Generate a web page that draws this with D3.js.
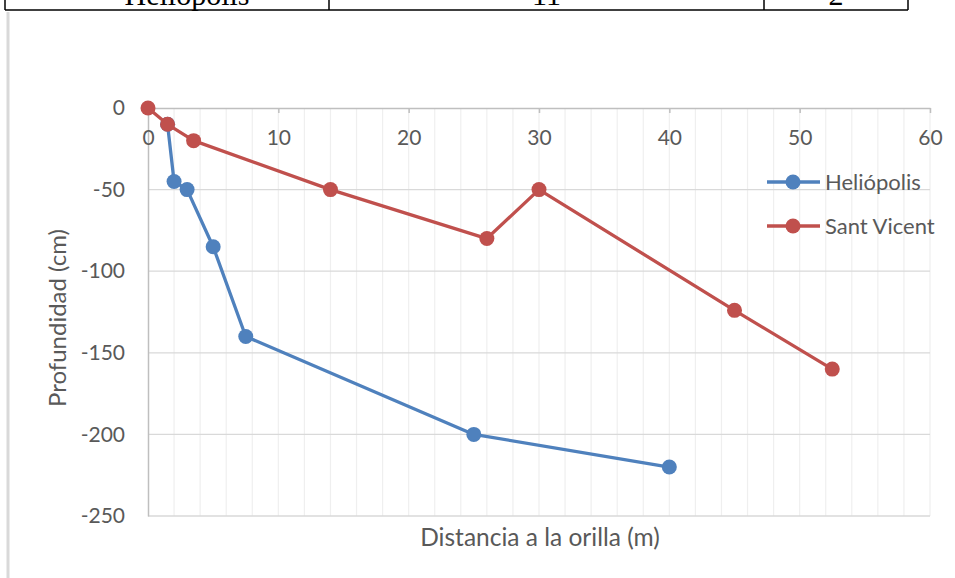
<!DOCTYPE html>
<html>
<head>
<meta charset="utf-8">
<script src="https://cdn.jsdelivr.net/npm/d3@7"></script>
<style>
  html, body { margin: 0; padding: 0; background: #fff; }
  svg { display: block; }
  text { font-family: Lato, "Open Sans", sans-serif; }
</style>
</head>
<body>
<svg id="chart" width="955" height="578"></svg>
<script>
// ---- data ----
const helioX = [1.5, 2, 3, 5, 7.5, 25, 40];
const helioY = [-10, -45, -50, -85, -140, -200, -220];
const vicentX = [0, 1.5, 3.5, 14, 26, 30, 45, 52.5];
const vicentY = [0, -10, -20, -50, -80, -50, -124, -160];
const seriesNames = ["Heliópolis", "Sant Vicent"];
const xTicks = [0, 10, 20, 30, 40, 50, 60];
const yTicks = [0, -50, -100, -150, -200, -250];
const xTitle = "Distancia a la orilla (m)";
const yTitle = "Profundidad (cm)";
const tableCells = ["Heliópolis", "11", "2"];

const colors = ["#4F81BD", "#C0504D"];
const textColor = "#595959";
const svg = d3.select("#chart");

// page/table fragment at the top
const tableCols = [5, 329, 764, 908];
svg.append("line").attr("x1", 5).attr("x2", 908).attr("y1", 10).attr("y2", 10)
  .attr("stroke", "#000").attr("stroke-width", 1.5);
tableCols.forEach(c => svg.append("line").attr("x1", c).attr("x2", c).attr("y1", 0).attr("y2", 10)
  .attr("stroke", "#000").attr("stroke-width", 1.5));
const cellCenters = [(5 + 329) / 2 + 20, (329 + 764) / 2, (764 + 908) / 2];
tableCells.forEach((t, i) => svg.append("text").attr("x", cellCenters[i]).attr("y", 5)
  .attr("text-anchor", "middle").style("font-family", "'Liberation Serif', 'DejaVu Serif', serif")
  .style("font-size", "30px").attr("fill", "#000").text(t));
// page margin line
svg.append("line").attr("x1", 8).attr("x2", 8).attr("y1", 12).attr("y2", 578)
  .attr("stroke", "#d9d9d9").attr("stroke-width", 3);

// scales
const x = d3.scaleLinear().domain([0, 60]).range([148, 930]);
const y = d3.scaleLinear().domain([-250, 0]).range([516, 108]);

// minor vertical gridlines every 2
const minor = d3.range(2, 61, 2);
svg.append("g").selectAll("line").data(minor).join("line")
  .attr("x1", d => x(d)).attr("x2", d => x(d)).attr("y1", y(0)).attr("y2", y(-250))
  .attr("stroke", "#efefef").attr("stroke-width", 1.2);

// horizontal gridlines
svg.append("g").selectAll("line").data(yTicks.filter(d => d !== 0)).join("line")
  .attr("x1", x(0)).attr("x2", x(60)).attr("y1", d => y(d)).attr("y2", d => y(d))
  .attr("stroke", "#d9d9d9").attr("stroke-width", 1.3);

// y axis
const yAxis = svg.append("g").attr("transform", `translate(${x(0)},0)`)
  .call(d3.axisLeft(y).tickValues(yTicks).tickSize(0).tickPadding(23).tickFormat(d => String(d)));
yAxis.select(".domain").attr("stroke", "#bfbfbf").attr("stroke-width", 1.5);
yAxis.selectAll("text").attr("fill", textColor).style("font-size", "21px");

// x axis at y = 0
const xAxis = svg.append("g").attr("transform", `translate(0,${y(0)})`)
  .call(d3.axisBottom(x).tickValues(xTicks).tickSize(5).tickPadding(17).tickSizeOuter(0)
    .tickFormat(d => String(d)));
xAxis.select(".domain").attr("stroke", "#bfbfbf").attr("stroke-width", 1.5);
xAxis.selectAll(".tick line").attr("stroke", "#bfbfbf").attr("stroke-width", 1.5);
xAxis.selectAll("text").attr("fill", textColor).style("font-size", "21px");

// series
const series = [
  helioX.map((v, i) => ({x: v, y: helioY[i]})),
  vicentX.map((v, i) => ({x: v, y: vicentY[i]}))
];
const line = d3.line().x(d => x(d.x)).y(d => y(d.y));
series.forEach((s, i) => {
  const g = svg.append("g");
  g.append("path").datum(s).attr("d", line).attr("fill", "none")
    .attr("stroke", colors[i]).attr("stroke-width", 3.3).attr("stroke-linejoin", "round");
  g.selectAll("circle").data(s).join("circle")
    .attr("cx", d => x(d.x)).attr("cy", d => y(d.y)).attr("r", 7.5)
    .attr("fill", colors[i]);
});

// legend
const legY = [182, 226];
seriesNames.forEach((n, i) => {
  const g = svg.append("g");
  g.append("line").attr("x1", 767).attr("x2", 820).attr("y1", legY[i]).attr("y2", legY[i])
    .attr("stroke", colors[i]).attr("stroke-width", 3.3);
  g.append("circle").attr("cx", 793).attr("cy", legY[i]).attr("r", 7.5).attr("fill", colors[i]);
  g.append("text").attr("x", 825).attr("y", legY[i]).attr("dy", "0.35em")
    .attr("fill", textColor).style("font-size", "22px").text(n);
});

// titles
svg.append("text").attr("x", 540).attr("y", 537).attr("dy", "0.35em").attr("text-anchor", "middle")
  .attr("fill", textColor).style("font-size", "24.5px").text(xTitle);
svg.append("text").attr("transform", "translate(58,318) rotate(-90)").attr("dy", "0.35em")
  .attr("text-anchor", "middle").attr("fill", textColor).style("font-size", "24px").text(yTitle);
</script>
</body>
</html>
